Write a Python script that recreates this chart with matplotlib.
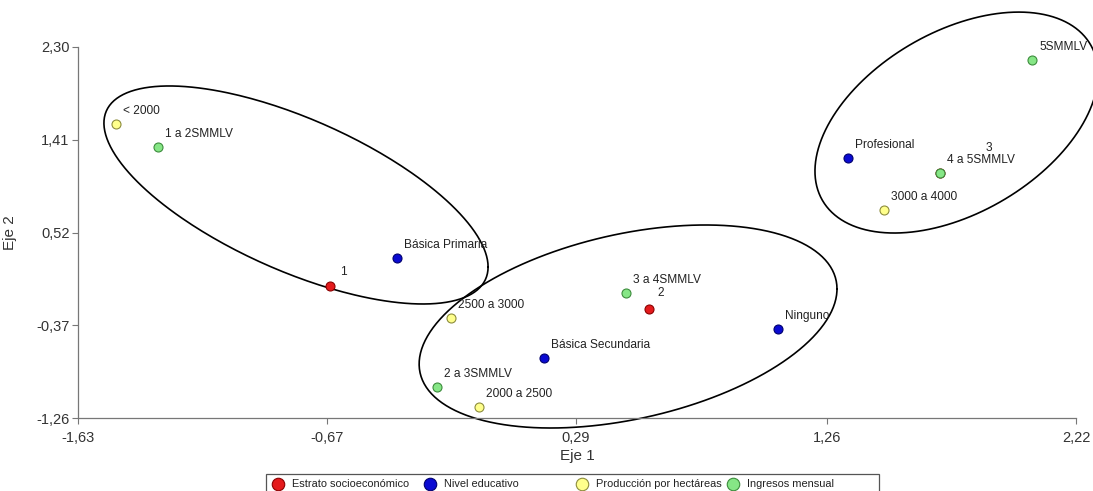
import matplotlib

matplotlib.use("Agg")
import matplotlib.pyplot as plt
import numpy as np
from matplotlib.lines import Line2D
from matplotlib.patches import Rectangle

plt.rcParams["font.family"] = ["Liberation Sans", "DejaVu Sans"]

# Category coordinates on the first two dimensions
groups = ["Estrato socioeconómico", "Nivel educativo",
          "Producción por hectáreas", "Ingresos mensual"]

estrato_names = ["1", "2", "3"]
estrato_x = [-0.658, 0.573, 1.696]
estrato_y = [0.006, -0.214, 1.091]

nivel_names = ["Básica Primaria", "Básica Secundaria", "Ninguno", "Profesional"]
nivel_x = [-0.399, 0.168, 1.071, 1.341]
nivel_y = [0.275, -0.685, -0.406, 1.235]

prod_names = ["< 2000", "2000 a 2500", "2500 a 3000", "3000 a 4000"]
prod_x = [-1.483, -0.083, -0.191, 1.480]
prod_y = [1.561, -1.155, -0.301, 0.736]

ingr_names = ["1 a 2SMMLV", "2 a 3SMMLV", "3 a 4SMMLV", "4 a 5SMMLV", "5SMMLV"]
ingr_x = [-1.321, -0.245, 0.484, 1.696, 2.051]
ingr_y = [1.340, -0.963, -0.061, 1.091, 2.175]

x_ticks = [-1.63, -0.67, 0.29, 1.26, 2.22]
y_ticks = [-1.26, -0.37, 0.52, 1.41, 2.30]

# cluster outlines: centre x, centre y, half width, half height, tilt (cos of phase)
clusters = [
    (-0.789, 0.880, 0.741, 1.046, -0.66),
    (0.492, -0.382, 0.806, 0.974, 0.37),
    (1.759, 1.575, 0.546, 1.060, 0.44),
]

styles = {
    "Estrato socioeconómico": ("#e41a1c", "#8b0000"),
    "Nivel educativo": ("#0a0ad2", "#00006e"),
    "Producción por hectáreas": ("#ffff8c", "#8c8c3c"),
    "Ingresos mensual": ("#86e686", "#3c8c3c"),
}

# label offsets in points (default is up-right of the marker)
label_offsets = {"3": (33, 14), "1": (7, 6), "2": (6, 7)}

W, H = 1093, 491


def ellipse_xy(cx, cy, w, h, rho, n=300):
    t = np.linspace(0, 2 * np.pi, n)
    phi = np.arccos(rho)
    return cx + w * np.cos(t), cy + h * np.cos(t - phi)


fig = plt.figure(figsize=(W / 100, H / 100), dpi=100)
ax = fig.add_axes([78 / W, 1 - 418 / H, 998 / W, 371 / H])

series = [
    (groups[0], estrato_names, estrato_x, estrato_y),
    (groups[1], nivel_names, nivel_x, nivel_y),
    (groups[2], prod_names, prod_x, prod_y),
    (groups[3], ingr_names, ingr_x, ingr_y),
]
for grp, names, xs, ys in series:
    face, edge = styles[grp]
    ax.scatter(xs, ys, s=42, c=face, edgecolors=edge, linewidths=0.8,
               zorder=3, clip_on=False)
    for name, x, y in zip(names, xs, ys):
        dx, dy = label_offsets.get(name, (5, 5))
        ax.annotate(name, (x, y), xytext=(dx, dy), textcoords="offset points",
                    fontsize=8.6, color="#222222", ha="left", va="bottom")

for cx, cy, w, h, rho in clusters:
    ex, ey = ellipse_xy(cx, cy, w, h, rho)
    ax.plot(ex, ey, color="black", lw=1.2, clip_on=False, zorder=2)

ax.set_xlim(-1.63, 2.22)
ax.set_ylim(-1.26, 2.30)
ax.set_xticks(x_ticks)
ax.set_yticks(y_ticks)
ax.set_xticklabels([f"{v:.2f}".replace(".", ",") for v in x_ticks])
ax.set_yticklabels([f"{v:.2f}".replace(".", ",") for v in y_ticks])
ax.tick_params(direction="out", length=4, width=0.8, colors="#777777",
               labelcolor="#333333", labelsize=10.5, pad=2)
ax.tick_params(axis="x", pad=5)
for side in ("top", "right"):
    ax.spines[side].set_visible(False)
for side in ("left", "bottom"):
    ax.spines[side].set_color("#777777")
    ax.spines[side].set_linewidth(0.9)
ax.set_xlabel("Eje 1", fontsize=11, color="#333333", labelpad=3)
ax.set_ylabel("Eje 2", fontsize=11, color="#333333", labelpad=14)

# legend row along the bottom edge, fixed-width slots
box_left, box_right, box_top = 266, 879, 474
slot_x = [278, 430, 582, 733]
row_y = 1 - 484 / H
fig.add_artist(Rectangle((box_left / W, -0.02), (box_right - box_left) / W,
                         1 - box_top / H + 0.02, transform=fig.transFigure,
                         fill=False, edgecolor="#555555", lw=0.9))
for g, sx in zip(groups, slot_x):
    face, edge = styles[g]
    fig.add_artist(Line2D([sx / W], [row_y], transform=fig.transFigure,
                          ls="none", marker="o", markersize=9,
                          markerfacecolor=face, markeredgecolor=edge,
                          markeredgewidth=0.8))
    fig.text((sx + 14) / W, row_y, g, fontsize=7.9, color="#222222",
             ha="left", va="center")

fig.savefig("out.png", dpi=100)
